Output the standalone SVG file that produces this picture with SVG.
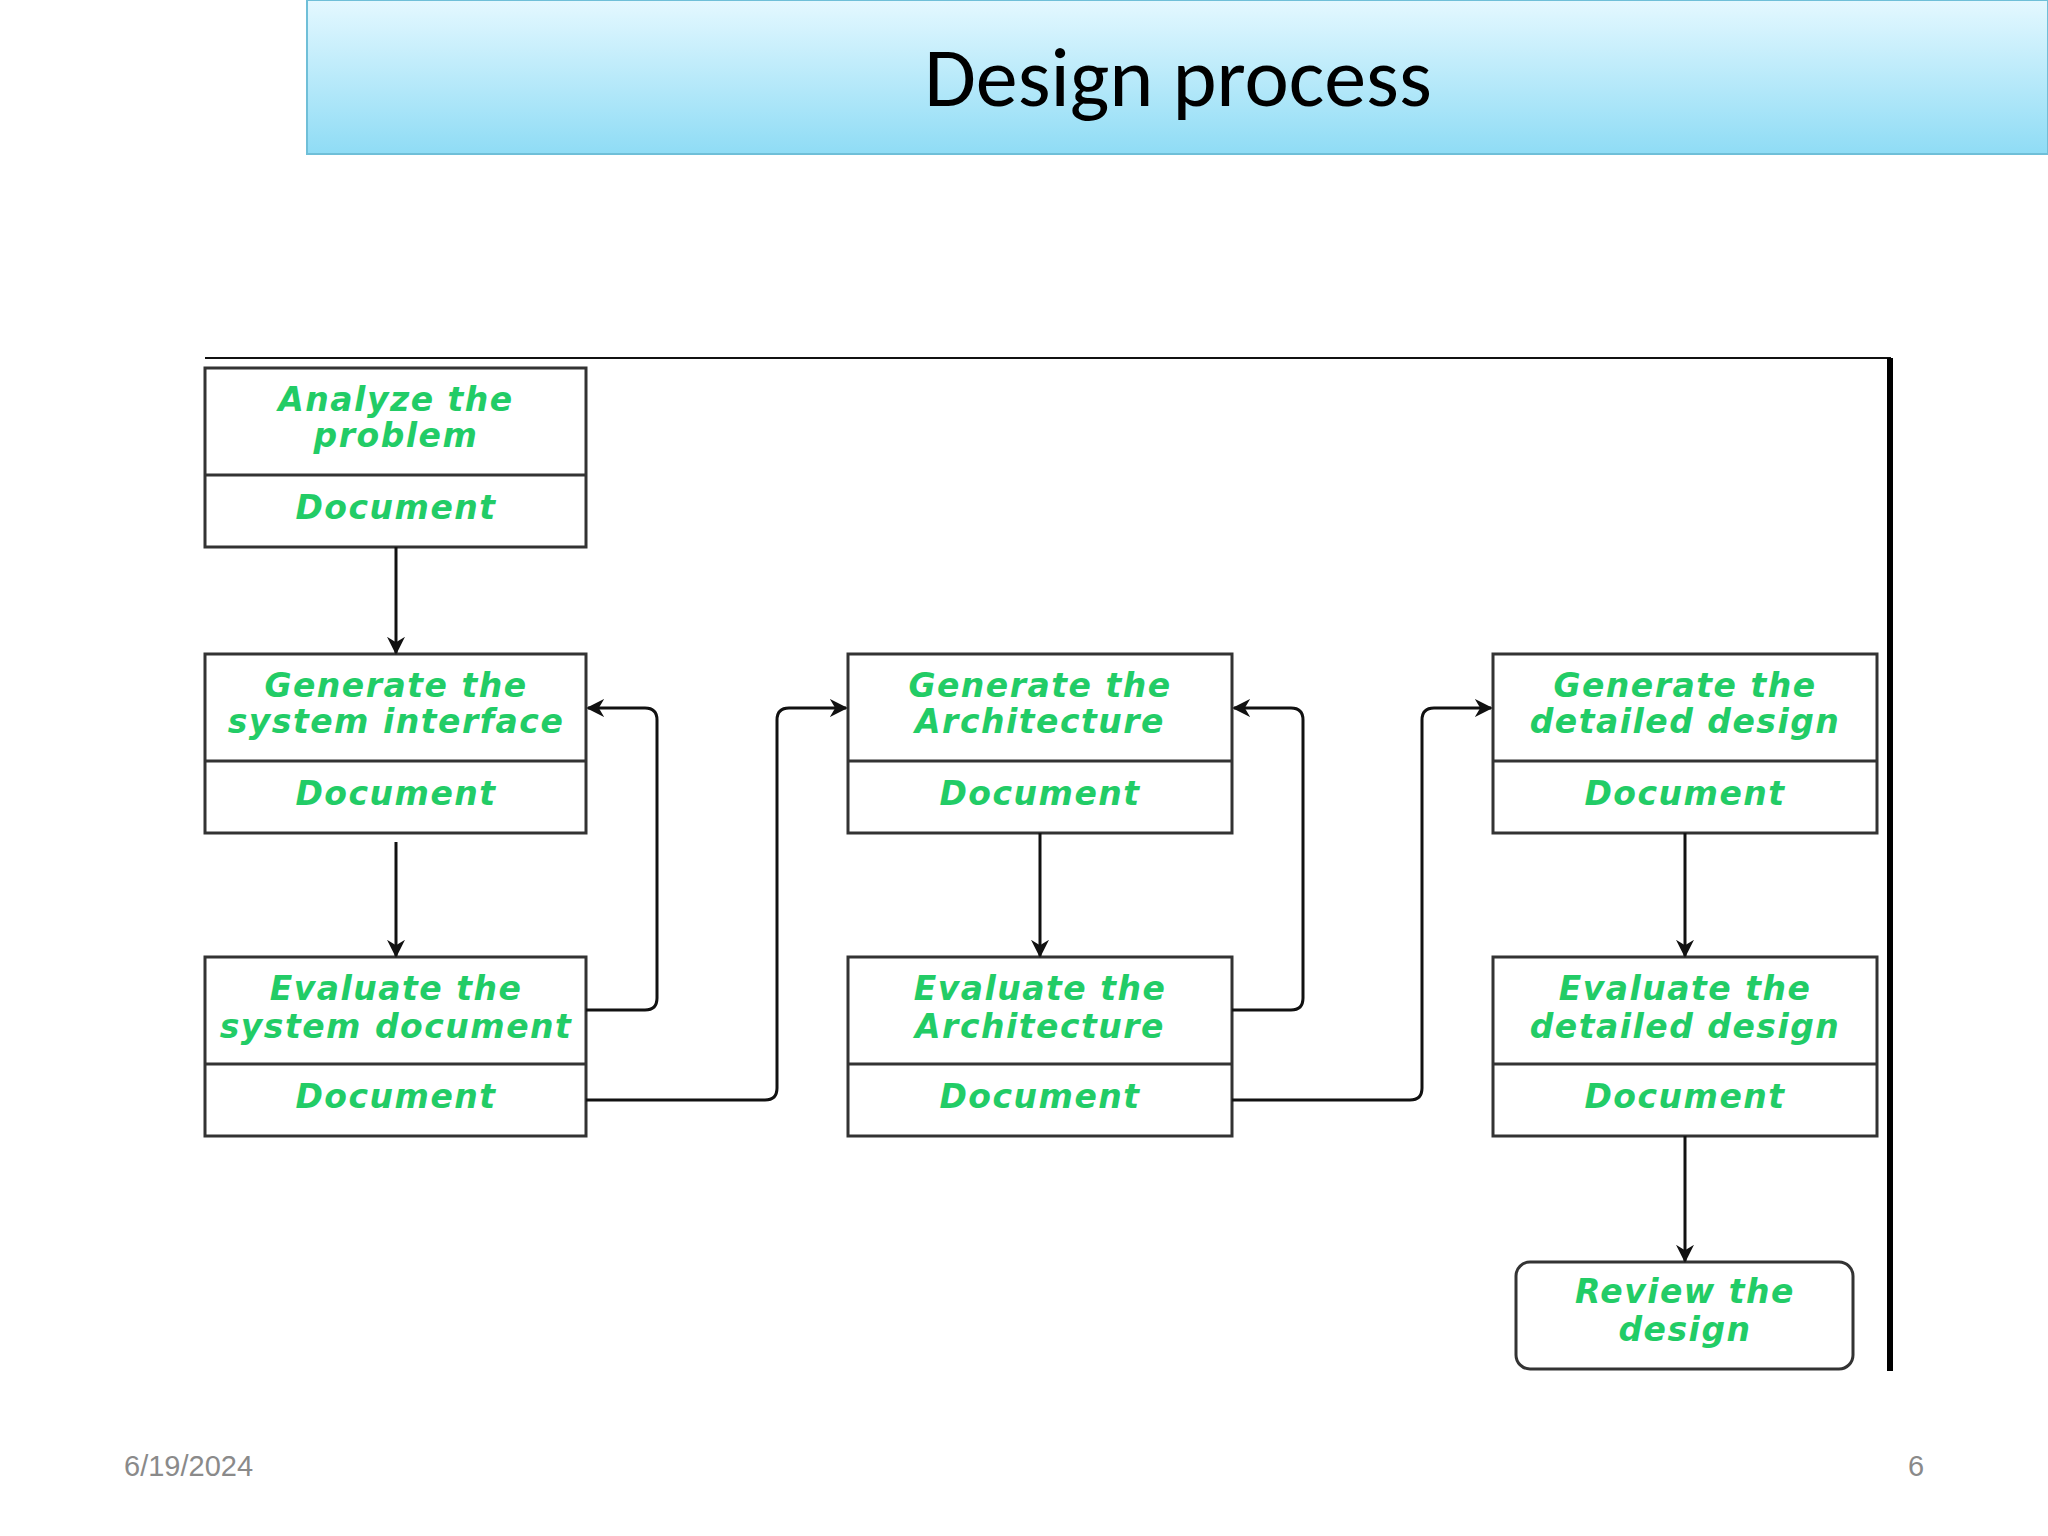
<svg xmlns="http://www.w3.org/2000/svg" width="2048" height="1536" viewBox="0 0 2048 1536">
<defs>
<linearGradient id="tg" x1="0" y1="0" x2="0" y2="1"><stop offset="0" stop-color="#e4f8ff"/><stop offset="1" stop-color="#8fdcf5"/></linearGradient>
<marker id="ah" viewBox="0 0 10 10" refX="9" refY="5" markerWidth="18" markerHeight="18" orient="auto" markerUnits="userSpaceOnUse"><path d="M0,0 L10,5 L0,10 L3,5 z" fill="#111"/></marker>
<style>
.b{fill:#fff;stroke:#333;stroke-width:3}
.t{font-family:"DejaVu Sans",sans-serif;font-weight:bold;font-style:italic;font-size:33px;letter-spacing:1.5px;fill:#22cc66;text-anchor:middle}
.c{fill:none;stroke:#111;stroke-width:3;marker-end:url(#ah)}
.f{font-family:"Liberation Sans",sans-serif;font-size:29px;fill:#8a8a8a}
</style>
</defs>
<rect width="2048" height="1536" fill="#fff"/>
<g id="title"><rect x="307" y="0" width="1741" height="154" fill="url(#tg)" stroke="#6fbfd8" stroke-width="2"/>
<text x="1178" y="106" font-family="Calibri,'Open Sans',sans-serif" font-size="84" text-anchor="middle" fill="#000">Design process</text></g>
<g id="frame"><line x1="205" y1="358" x2="1891" y2="358" stroke="#111" stroke-width="2"/><line x1="1890" y1="358" x2="1890" y2="1371" stroke="#000" stroke-width="6"/></g>
<g id="n1"><rect class="b" x="205" y="368" width="381" height="179"/><line x1="205" y1="475" x2="586" y2="475" stroke="#333" stroke-width="3"/><text class="t" x="396" y="411">Analyze the</text><text class="t" x="396" y="447">problem</text><text class="t" x="396" y="519">Document</text></g>
<g id="n2"><rect class="b" x="205" y="654" width="381" height="179"/><line x1="205" y1="761" x2="586" y2="761" stroke="#333" stroke-width="3"/><text class="t" x="396" y="697">Generate the</text><text class="t" x="396" y="733">system interface</text><text class="t" x="396" y="805">Document</text></g>
<g id="n3"><rect class="b" x="205" y="957" width="381" height="179"/><line x1="205" y1="1064" x2="586" y2="1064" stroke="#333" stroke-width="3"/><text class="t" x="396" y="1000">Evaluate the</text><text class="t" x="396" y="1038">system document</text><text class="t" x="396" y="1108">Document</text></g>
<g id="n4"><rect class="b" x="848" y="654" width="384" height="179"/><line x1="848" y1="761" x2="1232" y2="761" stroke="#333" stroke-width="3"/><text class="t" x="1040" y="697">Generate the</text><text class="t" x="1040" y="733">Architecture</text><text class="t" x="1040" y="805">Document</text></g>
<g id="n5"><rect class="b" x="848" y="957" width="384" height="179"/><line x1="848" y1="1064" x2="1232" y2="1064" stroke="#333" stroke-width="3"/><text class="t" x="1040" y="1000">Evaluate the</text><text class="t" x="1040" y="1038">Architecture</text><text class="t" x="1040" y="1108">Document</text></g>
<g id="n6"><rect class="b" x="1493" y="654" width="384" height="179"/><line x1="1493" y1="761" x2="1877" y2="761" stroke="#333" stroke-width="3"/><text class="t" x="1685" y="697">Generate the</text><text class="t" x="1685" y="733">detailed design</text><text class="t" x="1685" y="805">Document</text></g>
<g id="n7"><rect class="b" x="1493" y="957" width="384" height="179"/><line x1="1493" y1="1064" x2="1877" y2="1064" stroke="#333" stroke-width="3"/><text class="t" x="1685" y="1000">Evaluate the</text><text class="t" x="1685" y="1038">detailed design</text><text class="t" x="1685" y="1108">Document</text></g>
<g id="n8"><rect class="b" x="1516" y="1262" width="337" height="107" rx="14"/><text class="t" x="1685" y="1303">Review the</text><text class="t" x="1685" y="1341">design</text></g>
<g id="connectors">
<line class="c" x1="396" y1="547" x2="396" y2="653"/>
<line class="c" x1="396" y1="842" x2="396" y2="956"/>
<path class="c" d="M586,1010 H645 Q657,1010 657,998 V720 Q657,708 645,708 H588"/>
<path class="c" d="M586,1100 H765 Q777,1100 777,1088 V720 Q777,708 789,708 H846"/>
<line class="c" x1="1040" y1="833" x2="1040" y2="956"/>
<path class="c" d="M1232,1010 H1291 Q1303,1010 1303,998 V720 Q1303,708 1291,708 H1234"/>
<path class="c" d="M1232,1100 H1410 Q1422,1100 1422,1088 V720 Q1422,708 1434,708 H1491"/>
<line class="c" x1="1685" y1="833" x2="1685" y2="956"/>
<line class="c" x1="1685" y1="1136" x2="1685" y2="1261"/>
</g>
<text class="f" x="124" y="1476">6/19/2024</text>
<text class="f" x="1916" y="1476" text-anchor="middle">6</text>
</svg>
